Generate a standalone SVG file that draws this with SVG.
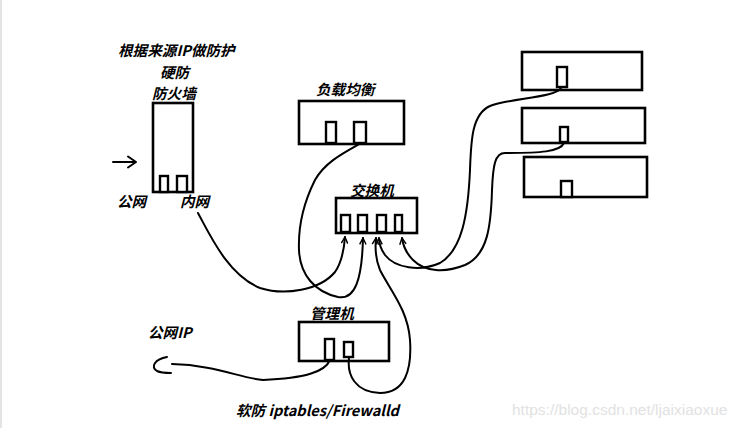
<svg xmlns="http://www.w3.org/2000/svg" width="742" height="428" viewBox="0 0 742 428">
<style>
.box{fill:none;stroke:#000;stroke-width:2.6}
.port{fill:#fff;stroke:#000;stroke-width:2.4}
.wire{fill:none;stroke:#000;stroke-width:2;stroke-linecap:round;stroke-linejoin:round}
.lbl{font-family:"Noto Sans CJK SC","Liberation Sans",sans-serif;font-size:14.6px;font-weight:bold;font-style:italic;fill:#000}
.wm{font-family:"Liberation Sans",Arial,sans-serif;font-size:15.5px;fill:#e2e2e2}
</style>
<defs>
<marker id="ah" viewBox="0 0 10 10" refX="9" refY="5" markerWidth="8" markerHeight="8" markerUnits="userSpaceOnUse" orient="auto">
<path d="M1 1 L9 5 L1 9" fill="none" stroke="#000" stroke-width="1.8"/>
</marker>
</defs>
<rect width="742" height="428" fill="#fff"/>
<rect x="0" y="0" width="2" height="428" fill="#e4e4e4"/>

<g id="firewall">
<text class="lbl" x="118" y="56">根据来源IP做防护</text>
<text class="lbl" x="160" y="78">硬防</text>
<text class="lbl" x="152" y="99">防火墙</text>
<rect class="box" x="153" y="103" width="40" height="89"/>
<rect class="port" x="160" y="176" width="8" height="16"/>
<rect class="port" x="177" y="176" width="10" height="16"/>
<text class="lbl" x="117" y="207">公网</text>
<text class="lbl" x="180" y="207">内网</text>
</g>

<g id="inbound-arrow">
<path class="wire" d="M113 162 H134 M128 156.5 L136 162 L128 167.5"/>
</g>

<g id="loadbalancer">
<text class="lbl" x="316" y="95">负载均衡</text>
<rect class="box" x="299" y="101" width="105" height="43"/>
<rect class="port" x="326" y="122" width="10" height="21"/>
<rect class="port" x="354" y="122" width="12" height="21"/>
</g>

<g id="switch">
<text class="lbl" x="350" y="196">交换机</text>
<rect class="box" x="336" y="198" width="81" height="35"/>
<rect class="port" x="341" y="215" width="9" height="17"/>
<rect class="port" x="358" y="215" width="9" height="17"/>
<rect class="port" x="377" y="215" width="9" height="17"/>
<rect class="port" x="395" y="215" width="7" height="17"/>
</g>

<g id="server1">
<rect class="box" x="522" y="52" width="120" height="38"/>
<rect class="port" x="557" y="67" width="10" height="20"/>
</g>
<g id="server2">
<rect class="box" x="522" y="108" width="123" height="35"/>
<rect class="port" x="560" y="127" width="8" height="15"/>
</g>
<g id="server3">
<rect class="box" x="524" y="157" width="123" height="40"/>
<rect class="port" x="561" y="181" width="11" height="16"/>
</g>

<g id="manager">
<text class="lbl" x="310" y="319">管理机</text>
<rect class="box" x="299" y="322" width="90" height="39"/>
<rect class="port" x="325" y="339" width="9" height="21"/>
<rect class="port" x="344" y="342" width="9" height="15"/>
</g>

<g id="public-ip">
<text class="lbl" x="148" y="338">公网IP</text>
</g>

<g id="soft-fw">
<text class="lbl" x="236" y="416">软防 iptables/Firewalld</text>
</g>

<g id="connectors">
<path class="wire" marker-end="url(#ah)" d="M198 213 C210 235 228 275 260 288 C285 296 320 290 335 272 C342 262 344 250 345 237"/>
<path class="wire" marker-end="url(#ah)" d="M361 143 C345 152 325 162 315 180 C305 200 298 225 299 250 C300 275 315 292 338 297 C355 300 362 280 363 238"/>
<path class="wire" marker-end="url(#ah)" d="M561 88 C555 98 510 98 490 106 C472 114 471 140 470 170 C468 215 462 250 440 263 C420 272 395 268 385 255 C380 248 379 243 379 238"/>
<path class="wire" marker-end="url(#ah)" d="M564 143 C560 152 540 153 505 153 C495 153 493 165 492 190 C491 225 488 255 465 265 C445 273 425 272 413 260 C405 252 403 245 402 238"/>
<path class="wire" marker-end="url(#ah)" d="M349 358 C347 375 355 392 380 393 C405 393 412 370 410 340 C408 310 390 290 380 270 C375 258 375 248 376 238"/>
<path class="wire" d="M330 360 C325 372 305 378 263 380 C240 378 215 365 172 364"/>
<path class="wire" d="M167 357 C155 359 150 367 157 371 C161 373 166 373 171 373"/>
</g>

<text class="wm" x="512" y="415">https://blog.csdn.net/ljaixiaoxue</text>
</svg>
